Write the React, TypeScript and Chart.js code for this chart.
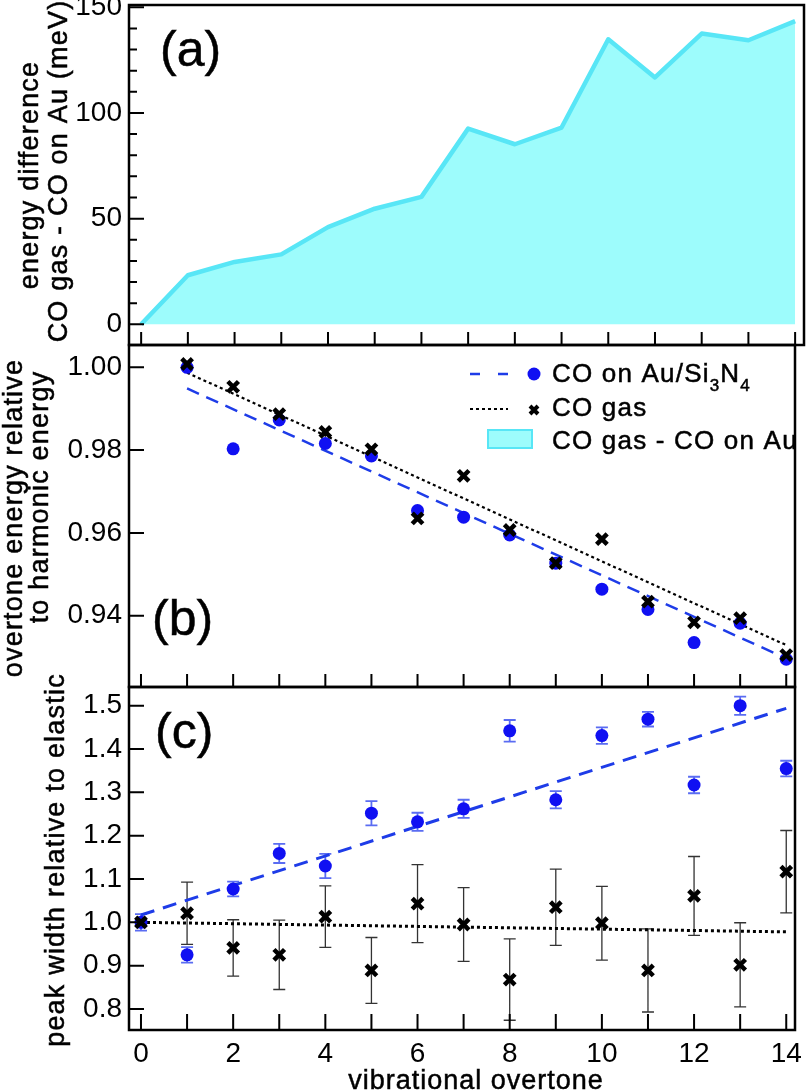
import React, { useEffect, useRef } from 'react';
import { Chart, registerables } from 'chart.js';

Chart.register(...registerables);

// ---- data ----
const OVERTONES = [0, 1, 2, 3, 4, 5, 6, 7, 8, 9, 10, 11, 12, 13, 14];
const ENERGY_DIFF_MEV = [0, 23.2, 29.5, 33.1, 46.0, 54.7, 60.3, 92.6, 85.2, 93.1, 134.9, 116.8, 137.6, 134.4, 143.5];

const REL_OVERTONES = [1, 2, 3, 4, 5, 6, 7, 8, 9, 10, 11, 12, 13, 14];
const REL_ENERGY_AU = [1.0, 0.9803, 0.9873, 0.9816, 0.9786, 0.9654, 0.9638, 0.9595, 0.9527, 0.9464, 0.9415, 0.9335, 0.9382, 0.9295];
const REL_ENERGY_GAS = [1.0008, 0.9953, 0.9887, 0.9844, 0.9802, 0.9635, 0.9738, 0.9607, 0.9527, 0.9585, 0.9434, 0.9384, 0.9394, 0.9305];
const REL_FIT_X = [1, 14];
const REL_FIT_AU = [0.9949, 0.9297];
const REL_FIT_GAS = [0.9987, 0.9329];

const WIDTH_AU = [1.0, 0.925, 1.077, 1.159, 1.13, 1.252, 1.232, 1.262, 1.442, 1.283, 1.431, 1.469, 1.317, 1.5, 1.355];
const WIDTH_AU_ERR = [0.019, 0.018, 0.017, 0.022, 0.028, 0.028, 0.021, 0.021, 0.025, 0.02, 0.019, 0.017, 0.019, 0.021, 0.018];
const WIDTH_GAS = [1.0, 1.021, 0.941, 0.925, 1.013, 0.889, 1.043, 0.995, 0.868, 1.035, 0.998, 0.889, 1.061, 0.902, 1.117];
const WIDTH_GAS_ERR = [0, 0.072, 0.065, 0.08, 0.071, 0.076, 0.09, 0.085, 0.094, 0.088, 0.085, 0.096, 0.091, 0.097, 0.095];
const WIDTH_FIT_X = [0, 14];
const WIDTH_FIT_AU = [1.017, 1.494];
const WIDTH_FIT_GAS = [1.0, 0.978];

// ---- ticks ----
const X_LABEL_TICKS = [0, 2, 4, 6, 8, 10, 12, 14];
const A_Y_TICKS = [0, 50, 100, 150];
const A_Y_MINOR = [10, 20, 30, 40, 60, 70, 80, 90, 110, 120, 130, 140];
const B_Y_TICKS = [0.94, 0.96, 0.98, 1.0];
const C_Y_TICKS = [0.8, 0.9, 1.0, 1.1, 1.2, 1.3, 1.4, 1.5];

// ---- styles ----
const FONT = '"Liberation Sans", Arial, Helvetica, sans-serif';
const TICK_FONT_SIZE = 28;
const BLUE = '#1010f2';
const BLUE_LINE = '#1e3ce8';
const BLUE_ERR = '#5a6cf2';
const GAS_ERR = '#333333';
const CYAN_FILL = '#9dfcfc';
const CYAN_LINE = '#58e6f6';
const X_MIN = -0.26;
const X_MAX = 14.19;

const pts = (xs: number[], ys: number[]) => xs.map((x, i) => ({ x, y: ys[i] }));

type Title = { text: string; x: number; y: number };
type PanelSpec = {
  letter: string;
  letterX: number;
  letterY: number;
  xTickLen: number;
  yMajor: number[];
  yMinor: number[];
  titles: Title[];
  extra?: (chart: any) => void;
  beforeDatasets?: (chart: any) => void;
};

function setSpacing(ctx: CanvasRenderingContext2D, spacing: string) {
  (ctx as any).letterSpacing = spacing;
}

// fill plus a hairline stroke so the lettering reads as solid as the axis frame
function solidText(ctx: CanvasRenderingContext2D, s: string, x: number, y: number) {
  ctx.fillText(s, x, y);
  ctx.lineWidth = 0.5;
  ctx.strokeStyle = ctx.fillStyle as string;
  ctx.strokeText(s, x, y);
}

function decorPlugin(spec: PanelSpec) {
  return {
    id: 'panelDecor',
    beforeDatasetsDraw(chart: any) {
      if (spec.beforeDatasets) spec.beforeDatasets(chart);
    },
    afterDraw(chart: any) {
      const { ctx, chartArea: a, scales } = chart;
      const xs = scales.x;
      const ys = scales.y;
      ctx.save();
      ctx.strokeStyle = '#000';
      ctx.lineWidth = 2;
      ctx.beginPath();
      for (const v of OVERTONES) {
        const px = xs.getPixelForValue(v);
        ctx.moveTo(px, a.bottom);
        ctx.lineTo(px, a.bottom - spec.xTickLen);
      }
      for (const v of spec.yMajor) {
        const py = ys.getPixelForValue(v);
        ctx.moveTo(a.left, py);
        ctx.lineTo(a.left + 15, py);
      }
      for (const v of spec.yMinor) {
        const py = ys.getPixelForValue(v);
        ctx.moveTo(a.left, py);
        ctx.lineTo(a.left + 8, py);
      }
      ctx.stroke();
      ctx.lineWidth = 2.5;
      ctx.strokeRect(a.left, a.top, a.right - a.left, a.bottom - a.top);

      ctx.fillStyle = '#000';
      ctx.font = `50px ${FONT}`;
      ctx.textAlign = 'left';
      ctx.textBaseline = 'alphabetic';
      solidText(ctx, spec.letter, spec.letterX, spec.letterY);

      ctx.font = `27px ${FONT}`;
      setSpacing(ctx, '1.2px');
      ctx.textAlign = 'center';
      for (const t of spec.titles) {
        ctx.save();
        ctx.translate(t.x, t.y);
        ctx.rotate(-Math.PI / 2);
        solidText(ctx, t.text, 0, 0);
        ctx.restore();
      }
      setSpacing(ctx, '0px');
      if (spec.extra) spec.extra(chart);
      ctx.restore();
    },
  };
}

function drawErrorBars(chart: any, values: number[], errs: number[], color: string, width: number) {
  const { ctx, scales } = chart;
  ctx.save();
  ctx.strokeStyle = color;
  ctx.lineWidth = width;
  ctx.beginPath();
  OVERTONES.forEach((x, i) => {
    if (!errs[i]) return;
    const px = scales.x.getPixelForValue(x);
    const top = scales.y.getPixelForValue(values[i] + errs[i]);
    const bot = scales.y.getPixelForValue(values[i] - errs[i]);
    ctx.moveTo(px, top);
    ctx.lineTo(px, bot);
    ctx.moveTo(px - 6, top);
    ctx.lineTo(px + 6, top);
    ctx.moveTo(px - 6, bot);
    ctx.lineTo(px + 6, bot);
  });
  ctx.stroke();
  ctx.restore();
}

function drawCross(ctx: CanvasRenderingContext2D, x: number, y: number, r: number, w: number) {
  ctx.save();
  ctx.strokeStyle = '#000';
  ctx.lineWidth = w;
  ctx.beginPath();
  ctx.moveTo(x - r, y - r);
  ctx.lineTo(x + r, y + r);
  ctx.moveTo(x - r, y + r);
  ctx.lineTo(x + r, y - r);
  ctx.stroke();
  ctx.restore();
}

function drawLegend(chart: any) {
  const ctx: CanvasRenderingContext2D = chart.ctx;
  ctx.save();
  // row 1: CO on Au/Si3N4
  ctx.strokeStyle = BLUE_LINE;
  ctx.lineWidth = 2.5;
  ctx.setLineDash([10, 18]);
  ctx.beginPath();
  ctx.moveTo(470, 374);
  ctx.lineTo(508, 374);
  ctx.stroke();
  ctx.fillStyle = BLUE;
  ctx.beginPath();
  ctx.arc(534, 374, 6.5, 0, Math.PI * 2);
  ctx.fill();
  // row 2: CO gas
  ctx.strokeStyle = '#000';
  ctx.lineWidth = 2;
  ctx.setLineDash([3, 3]);
  ctx.beginPath();
  ctx.moveTo(470, 409);
  ctx.lineTo(508, 409);
  ctx.stroke();
  ctx.setLineDash([]);
  drawCross(ctx, 534, 410, 4, 4);
  // row 3: difference fill
  ctx.fillStyle = CYAN_FILL;
  ctx.fillRect(488, 430, 44, 18);
  ctx.strokeStyle = CYAN_LINE;
  ctx.lineWidth = 2;
  ctx.strokeRect(488, 430, 44, 18);

  ctx.fillStyle = '#000';
  ctx.textAlign = 'left';
  ctx.textBaseline = 'alphabetic';
  setSpacing(ctx, '1.2px');
  const big = `26px ${FONT}`;
  const small = `17px ${FONT}`;
  let x = 552;
  const parts: [string, boolean][] = [['CO on Au/Si', false], ['3', true], ['N', false], ['4', true]];
  for (const [s, sub] of parts) {
    ctx.font = sub ? small : big;
    solidText(ctx, s, x, sub ? 391 : 382);
    x += ctx.measureText(s).width;
  }
  ctx.font = big;
  solidText(ctx, 'CO gas', 552, 416);
  solidText(ctx, 'CO gas - CO on Au', 552, 449);
  setSpacing(ctx, '0px');
  ctx.restore();
}

function drawXTitle(chart: any) {
  const ctx: CanvasRenderingContext2D = chart.ctx;
  ctx.save();
  ctx.fillStyle = '#000';
  ctx.font = `27px ${FONT}`;
  setSpacing(ctx, '1px');
  ctx.textAlign = 'center';
  ctx.textBaseline = 'alphabetic';
  solidText(ctx, 'vibrational overtone', 476, 1089);
  setSpacing(ctx, '0px');
  ctx.restore();
}

function yScale(min: number, max: number, ticks: number[], fmt: (v: number) => string) {
  return {
    type: 'linear',
    min,
    max,
    grid: { display: false, drawTicks: false },
    border: { display: false },
    afterBuildTicks: (s: any) => {
      s.ticks = ticks.map((v) => ({ value: v }));
    },
    afterFit: (s: any) => {
      s.width = 129;
      s.paddingTop = 0;
      s.paddingBottom = 0;
    },
    ticks: {
      padding: 7,
      color: '#000',
      font: { family: FONT, size: TICK_FONT_SIZE },
      callback: (v: number) => fmt(v),
    },
  };
}

const hiddenX = { type: 'linear', min: X_MIN, max: X_MAX, display: false };

function baseOptions(padding: any, x: any, y: any) {
  return {
    responsive: false,
    animation: false,
    devicePixelRatio: 1,
    events: [],
    layout: { padding },
    plugins: { legend: { display: false }, tooltip: { enabled: false } },
    scales: { x, y },
  };
}

function makeConfigs() {
  const a: any = {
    type: 'line',
    data: {
      datasets: [
        {
          data: pts(OVERTONES, ENERGY_DIFF_MEV),
          borderColor: CYAN_LINE,
          backgroundColor: CYAN_FILL,
          borderWidth: 4.5,
          borderJoinStyle: 'round',
          fill: 'origin',
          pointRadius: 0,
          tension: 0,
        },
      ],
    },
    options: baseOptions(
      { top: 5, bottom: 1092 - 345, left: 0, right: 3 },
      hiddenX,
      yScale(-9.8, 151.1, A_Y_TICKS, (v) => String(v))
    ),
    plugins: [
      decorPlugin({
        letter: '(a)',
        letterX: 160,
        letterY: 66,
        xTickLen: 13,
        yMajor: A_Y_TICKS,
        yMinor: A_Y_MINOR,
        titles: [
          { text: 'energy difference', x: 38, y: 175 },
          { text: 'CO gas - CO on Au (meV)', x: 67, y: 171 },
        ],
      }),
    ],
  };

  const b: any = {
    type: 'line',
    data: {
      datasets: [
        {
          data: pts(REL_OVERTONES, REL_ENERGY_GAS),
          showLine: false,
          pointStyle: 'crossRot',
          pointRadius: 7.5,
          pointBorderWidth: 4.5,
          pointBorderColor: '#000',
          order: 0,
        },
        {
          data: pts(REL_OVERTONES, REL_ENERGY_AU),
          showLine: false,
          pointStyle: 'circle',
          pointRadius: 6.5,
          pointBorderWidth: 0,
          pointBackgroundColor: BLUE,
          order: 1,
        },
        {
          data: pts(REL_FIT_X, REL_FIT_GAS),
          borderColor: '#000',
          borderWidth: 2.2,
          borderDash: [3, 3],
          pointRadius: 0,
          order: 2,
        },
        {
          data: pts(REL_FIT_X, REL_FIT_AU),
          borderColor: BLUE_LINE,
          borderWidth: 2.5,
          borderDash: [13, 8],
          pointRadius: 0,
          order: 3,
        },
      ],
    },
    options: baseOptions(
      { top: 345, bottom: 1092 - 687, left: 0, right: 3 },
      hiddenX,
      yScale(0.92278, 1.00539, B_Y_TICKS, (v) => v.toFixed(2))
    ),
    plugins: [
      decorPlugin({
        letter: '(b)',
        letterX: 152,
        letterY: 635,
        xTickLen: 13,
        yMajor: B_Y_TICKS,
        yMinor: [],
        titles: [
          { text: 'overtone energy relative', x: 22, y: 518 },
          { text: 'to harmonic energy', x: 48, y: 497 },
        ],
        extra: drawLegend,
      }),
    ],
  };

  const c: any = {
    type: 'line',
    data: {
      datasets: [
        {
          data: pts(OVERTONES, WIDTH_GAS),
          showLine: false,
          pointStyle: 'crossRot',
          pointRadius: 7.5,
          pointBorderWidth: 4.5,
          pointBorderColor: '#000',
          order: 0,
        },
        {
          data: pts(OVERTONES, WIDTH_AU),
          showLine: false,
          pointStyle: 'circle',
          pointRadius: 6.5,
          pointBorderWidth: 0,
          pointBackgroundColor: BLUE,
          order: 1,
        },
        {
          data: pts(WIDTH_FIT_X, WIDTH_FIT_GAS),
          borderColor: '#000',
          borderWidth: 3,
          borderDash: [3, 3],
          pointRadius: 0,
          order: 2,
        },
        {
          data: pts(WIDTH_FIT_X, WIDTH_FIT_AU),
          borderColor: BLUE_LINE,
          borderWidth: 3,
          borderDash: [14, 9],
          pointRadius: 0,
          order: 3,
        },
      ],
    },
    options: baseOptions(
      { top: 687, bottom: 0, left: 0, right: 3 },
      {
        type: 'linear',
        min: X_MIN,
        max: X_MAX,
        grid: { display: false, drawTicks: false },
        border: { display: false },
        afterBuildTicks: (s: any) => {
          s.ticks = X_LABEL_TICKS.map((v) => ({ value: v }));
        },
        afterFit: (s: any) => {
          s.height = 62;
          s.paddingLeft = 0;
          s.paddingRight = 0;
        },
        ticks: {
          padding: 7,
          color: '#000',
          maxRotation: 0,
          autoSkip: false,
          font: { family: FONT, size: TICK_FONT_SIZE },
          callback: (v: number) => String(v),
        },
      },
      yScale(0.7515, 1.5432, C_Y_TICKS, (v) => v.toFixed(1))
    ),
    plugins: [
      decorPlugin({
        letter: '(c)',
        letterX: 155,
        letterY: 748,
        xTickLen: 16,
        yMajor: C_Y_TICKS,
        yMinor: [],
        titles: [{ text: 'peak width relative to elastic', x: 64, y: 860 }],
        beforeDatasets: (chart) => {
          drawErrorBars(chart, WIDTH_GAS, WIDTH_GAS_ERR, GAS_ERR, 1.3);
          drawErrorBars(chart, WIDTH_AU, WIDTH_AU_ERR, BLUE_ERR, 1.8);
        },
        extra: drawXTitle,
      }),
    ],
  };
  return [a, b, c];
}

export default function App() {
  const refA = useRef<HTMLCanvasElement>(null);
  const refB = useRef<HTMLCanvasElement>(null);
  const refC = useRef<HTMLCanvasElement>(null);

  useEffect(() => {
    const configs = makeConfigs();
    const canvases = [refA.current, refB.current, refC.current];
    const charts = canvases.map((cv, i) => new Chart(cv as HTMLCanvasElement, configs[i]));
    return () => charts.forEach((ch) => ch.destroy());
  }, []);

  const canvasStyle: React.CSSProperties = { position: 'absolute', left: 0, top: 0 };
  return (
    <div style={{ position: 'absolute', left: 0, top: 0, width: 807, height: 1092, background: '#fff' }}>
      <canvas ref={refA} width={807} height={1092} style={canvasStyle} />
      <canvas ref={refB} width={807} height={1092} style={canvasStyle} />
      <canvas ref={refC} width={807} height={1092} style={canvasStyle} />
    </div>
  );
}
